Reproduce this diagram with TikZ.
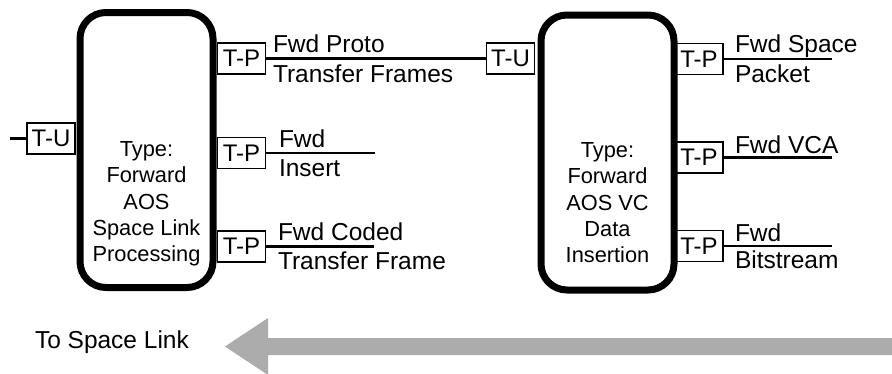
\documentclass[tikz,border=0pt]{standalone}
\usepackage{fontspec}
\setmainfont{Liberation Sans}
\definecolor{arrowgray}{RGB}{172,172,172}
\begin{document}
\begin{tikzpicture}[x=1pt,y=-1pt,
  every node/.style={font=\fontsize{24.5}{26}\selectfont, inner sep=0pt, outer sep=0pt},
  block/.style={draw, line width=7pt, rounded corners=26pt, minimum width=133pt, minimum height=275pt},
  blocktext/.style={align=center, font=\fontsize{21.8}{26.25}\selectfont},
  port/.style={draw, line width=1.8pt, minimum width=48pt, minimum height=31pt, font=\fontsize{24}{26}\selectfont},
  wire/.style={line width=2.4pt},
  lbl/.style={anchor=base west}]
\useasboundingbox (0,0) rectangle (892,373);
% blocks
\node[block] (B1) at (146.5,150) {};
\node[block] (B2) at (607.5,152.5) {};
\node[blocktext] (T1) at (146.5,204) {Type:\\Forward\\AOS\\Space Link\\Processing};
\node[blocktext] (T2) at (607.5,202.7) {Type:\\Forward\\AOS VC\\Data\\Insertion};
% ports
\node[port] (LTU) at (51,138.5) {T-U};
\node[port] (LP1) at (241.5,58.5) {T-P};
\node[port] (LP2) at (241.5,153) {T-P};
\node[port] (LP3) at (241.5,246.5) {T-P};
\node[port] (RTU) at (510.5,58.5) {T-U};
\node[port] (RP1) at (699,59) {T-P};
\node[port] (RP2) at (699,157.5) {T-P};
\node[port] (RP3) at (699,246) {T-P};
% free ends
\coordinate (eL) at (10,138.5);
\coordinate (e2) at (375,153);
\coordinate (e3) at (374,246.5);
\coordinate (f1) at (832,59);
\coordinate (f2) at (832,157.5);
\coordinate (f3) at (832,246);
% wires
\draw[wire] (eL) -- (LTU.west);
\draw[wire] (LP1.east) -- (RTU.west);
\draw[wire] (LP2.east) -- (e2);
\draw[wire] (LP3.east) -- (e3);
\draw[wire] (RP1.east) -- (f1);
\draw[wire] (RP2.east) -- (f2);
\draw[wire] (RP3.east) -- (f3);
% labels
\node[lbl] (a1) at (273,52) {Fwd Proto};
\node[lbl] (a2) at (273,82) {Transfer Frames};
\node[lbl] (b1) at (279,147) {Fwd};
\node[lbl] (b2) at (279,176) {Insert};
\node[lbl] (c1) at (278,240) {Fwd Coded};
\node[lbl] (c2) at (278,269) {Transfer Frame};
\node[lbl] (d1) at (735,52) {Fwd Space};
\node[lbl] (d2) at (735,82) {Packet};
\node[lbl] (g1) at (735,153) {Fwd VCA};
\node[lbl] (h1) at (735,241) {Fwd};
\node[lbl] (h2) at (735,268) {Bitstream};
\node[lbl] (dir) at (35,348) {To Space Link};
% big arrow
\fill[arrowgray] (225,346.5) -- (268,318) -- (268,338) -- (892,338) -- (892,355) -- (268,355) -- (268,375) -- cycle;
\end{tikzpicture}
\end{document}
